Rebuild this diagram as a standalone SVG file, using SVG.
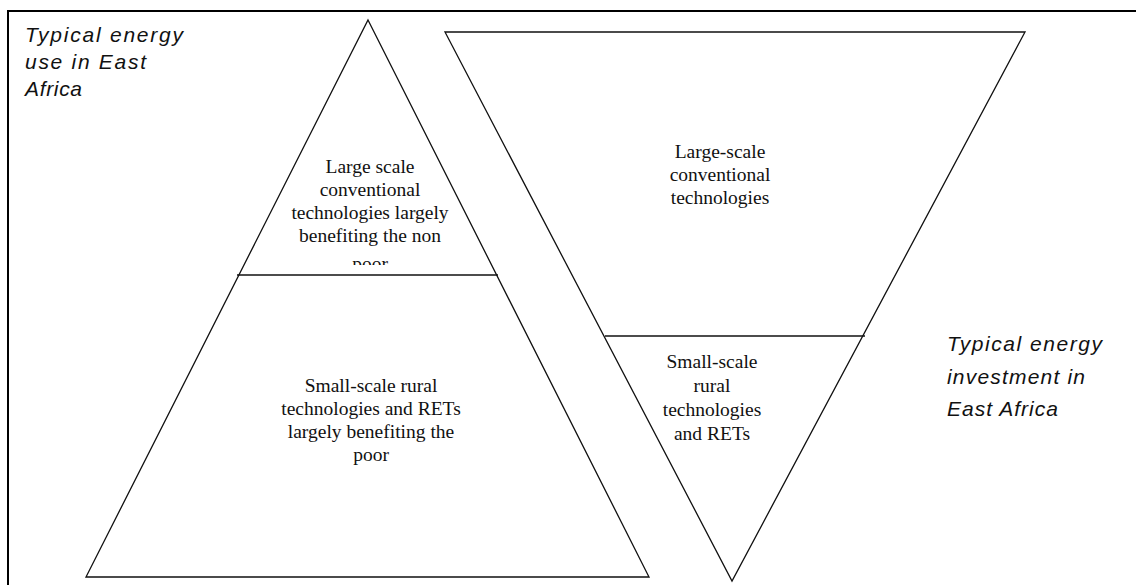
<svg xmlns="http://www.w3.org/2000/svg" width="1136" height="585" viewBox="0 0 1136 585">
<style>
.edge{fill:none;stroke:#111;stroke-width:1.3}
.frame{fill:none;stroke:#000;stroke-width:2}
.lbl{font-family:"Liberation Serif","Times New Roman",serif;font-size:19.5px;fill:#111;text-anchor:middle}
.cap{font-family:"Liberation Sans",Arial,sans-serif;font-size:21px;font-style:italic;fill:#111}
</style>
<defs>
<clipPath id="clipTop"><rect x="0" y="0" width="1136" height="265"/></clipPath>
</defs>
<rect width="1136" height="585" fill="#fff"/>
<g id="frame">
<path class="frame" d="M8,585 V11 H1136"/>
</g>
<g id="pyramid-use">
<polygon class="edge" points="368,20 649,577 86,577"/>
<line class="edge" x1="237" y1="275" x2="498" y2="275"/>
</g>
<g id="pyramid-investment">
<polygon class="edge" points="445,32 1025,32 732,581"/>
<line class="edge" x1="605" y1="336" x2="865" y2="336"/>
</g>
<g id="use-large">
<g clip-path="url(#clipTop)">
<text class="lbl" x="370" y="173">Large scale</text>
<text class="lbl" x="370" y="196">conventional</text>
<text class="lbl" x="370" y="219">technologies largely</text>
<text class="lbl" x="370" y="242">benefiting the non</text>
<text class="lbl" x="370" y="270">poor</text>
</g>
</g>
<g id="use-small">
<text class="lbl" x="371" y="392">Small-scale rural</text>
<text class="lbl" x="371" y="415">technologies and RETs</text>
<text class="lbl" x="371" y="438">largely benefiting the</text>
<text class="lbl" x="371" y="461">poor</text>
</g>
<g id="inv-large">
<text class="lbl" x="720" y="158">Large-scale</text>
<text class="lbl" x="720" y="181">conventional</text>
<text class="lbl" x="720" y="204">technologies</text>
</g>
<g id="inv-small">
<text class="lbl" x="712" y="368">Small-scale</text>
<text class="lbl" x="712" y="392">rural</text>
<text class="lbl" x="712" y="416">technologies</text>
<text class="lbl" x="712" y="440">and RETs</text>
</g>
<g id="caption-use">
<text class="cap" x="25" y="42" textLength="158" lengthAdjust="spacing">Typical energy</text>
<text class="cap" x="25" y="69" textLength="121" lengthAdjust="spacing">use in East</text>
<text class="cap" x="25" y="96" textLength="57" lengthAdjust="spacing">Africa</text>
</g>
<g id="caption-investment">
<text class="cap" x="947" y="351" textLength="155" lengthAdjust="spacing">Typical energy</text>
<text class="cap" x="947" y="384" textLength="138" lengthAdjust="spacing">investment in</text>
<text class="cap" x="947" y="416" textLength="111" lengthAdjust="spacing">East Africa</text>
</g>
</svg>
